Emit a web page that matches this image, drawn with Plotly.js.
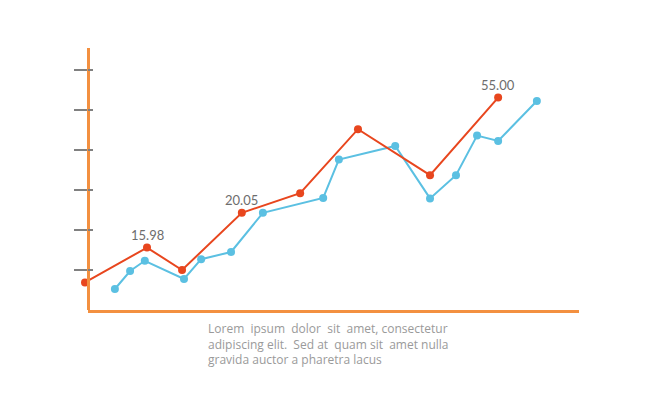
<!DOCTYPE html>
<html>
<head>
<meta charset="utf-8">
<script src="https://cdn.plot.ly/plotly-3.0.1.min.js"></script>
<style>html,body{margin:0;padding:0;background:#fff;}#chart{width:650px;height:397px;}</style>
</head>
<body>
<div id="chart"></div>
<script>
// Series A (red-orange)
const redX = [0, 12.65, 19.8, 32.0, 43.9, 55.7, 70.4, 84.3];
const redY = [6.9, 15.6, 10.0, 24.3, 29.2, 45.2, 33.7, 53.1];
// Series B (blue)
const blueX = [6.1, 9.2, 12.2, 20.2, 23.7, 29.8, 36.3, 48.6, 51.8, 63.3, 70.4, 75.7, 80.0, 84.3, 92.2];
const blueY = [5.25, 9.75, 12.3, 7.75, 12.7, 14.5, 24.3, 28.0, 37.6, 41.0, 27.9, 33.7, 43.6, 42.25, 52.25];
// Labelled points (index into red series) and their labels
const labelIdx = [1, 3, 7];
const labelText = ["15.98", "20.05", "55.00"];
const tickVals = [10, 20, 30, 40, 50, 60];
const captionLines = [
  "Lorem&nbsp; ipsum&nbsp; dolor&nbsp; sit&nbsp; amet, consectetur",
  "adipiscing elit.&nbsp; Sed at&nbsp; quam sit&nbsp; amet nulla",
  "gravida auctor a pharetra lacus"
];

const RED = "#E8461E", BLUE = "#5BC0E2", ORANGE = "#F39040", GRAY = "#808080";
const PLOT_L = 78, AXIS_L = 88, PLOT_R = 579, PLOT_T = 48, PLOT_B = 310;
const W = PLOT_R - PLOT_L, H = PLOT_B - PLOT_T;
const axisStart = (AXIS_L - PLOT_L) / W;

const traces = [
  {x: blueX, y: blueY, type: "scatter", mode: "lines+markers",
   line: {color: BLUE, width: 2}, marker: {color: BLUE, size: 8}, cliponaxis: false, hoverinfo: "none"},
  {x: redX, y: redY, type: "scatter", mode: "lines+markers",
   line: {color: RED, width: 2}, marker: {color: RED, size: 8}, cliponaxis: false, hoverinfo: "none"},
  {x: [], y: [], xaxis: "x2", yaxis: "y2", type: "scatter", hoverinfo: "none"}
];

const annotations = labelIdx.map((i, k) => ({
  x: redX[i], y: redY[i], xref: "x", yref: "y", text: labelText[k],
  showarrow: false, yshift: 13, font: {family: "Lato, 'DejaVu Sans', sans-serif", size: 13, color: "#6d6d6d"}
}));
annotations.push({
  xref: "paper", yref: "paper", x: (206 - PLOT_L) / W, y: (PLOT_B - 344) / H,
  xanchor: "left", yanchor: "middle", align: "left", showarrow: false, text: captionLines.join("<br>"),
  font: {family: "'Open Sans', sans-serif", size: 12, color: "#9a9a9a"}
});

const layout = {
  width: 650, height: 397,
  margin: {l: PLOT_L, r: 650 - PLOT_R, t: PLOT_T, b: 397 - PLOT_B},
  paper_bgcolor: "#fff", plot_bgcolor: "rgba(0,0,0,0)",
  showlegend: false,
  xaxis: {range: [-1.43, 100.8], domain: [0, 1], showgrid: false, zeroline: false,
          showticklabels: false, ticks: "", showline: false},
  yaxis: {range: [0, 65.5], domain: [0, 1], anchor: "free", position: axisStart, showgrid: false, zeroline: false,
          showticklabels: false, tickvals: tickVals, ticks: "outside", ticklen: 13, tickwidth: 2, tickcolor: GRAY,
          showline: true, linecolor: ORANGE, linewidth: 2.5},
  xaxis2: {range: [0, 1], domain: [axisStart, 1], anchor: "y2", showgrid: false, zeroline: false,
           showticklabels: false, ticks: "", showline: true, linecolor: ORANGE, linewidth: 2.5},
  yaxis2: {range: [0, 65.5], domain: [0, 1], anchor: "x2", showgrid: false, zeroline: false,
           showticklabels: false, tickvals: tickVals, ticks: "inside", ticklen: 5, tickwidth: 2,
           tickcolor: GRAY, showline: false},
  annotations: annotations
};

Plotly.newPlot("chart", traces, layout, {staticPlot: true, displayModeBar: false});
</script>
</body>
</html>
